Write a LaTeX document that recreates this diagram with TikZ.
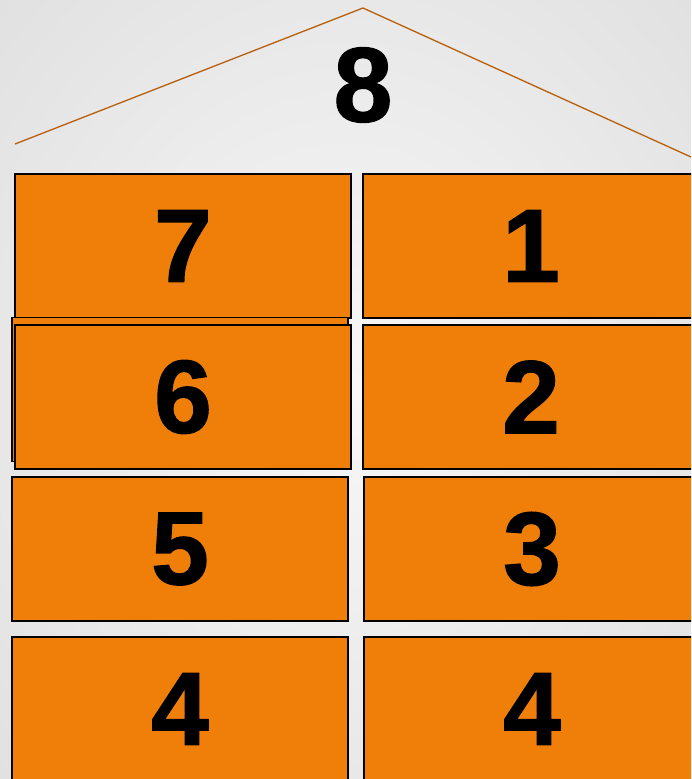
\documentclass[tikz,border=0pt]{standalone}
\usepackage{fontspec}
\setmainfont[BoldFeatures={FakeBold=1.2}]{Liberation Sans}
\usetikzlibrary{positioning}
\definecolor{tileorange}{HTML}{F07F0A}
\definecolor{roofbrown}{HTML}{B85F0C}

\begin{document}
\begin{tikzpicture}[x=1pt,y=-1pt,
    tile/.style={draw=black, line width=1.5pt, fill=tileorange,
      minimum width=336pt, minimum height=144pt, inner sep=0pt,
      font=\fontsize{104}{104}\selectfont\bfseries},
    roof/.style={draw=roofbrown, line width=1.3pt}]
    % Background
    \useasboundingbox (0,0) rectangle (691,779);
    \clip (0,0) rectangle (691,779);
    \shade[inner color=black!3, outer color=black!13] (-200,-250) rectangle (891,1029);

    % Roof with the whole number
    \coordinate (eaveL) at (15,144);
    \coordinate (apex) at (363,8);
    \coordinate (eaveR) at (691,157);
    \draw[roof] (eaveL) -- (apex) -- (eaveR);
    \node[font=\fontsize{106}{106}\selectfont\bfseries, inner sep=0pt] (whole) at (363,85) {8};

    % Number pairs
    \node[tile] (seven) at (183,246) {7};
    \node[tile] (one) at (531,246) {1};
    \node[tile] (behind) at (180,389.5) {};
    \node[tile] (six) at (183,397) {6};
    \node[tile] (two) at (531,397) {2};
    \node[tile] (five) at (180,549) {5};
    \node[tile] (three) at (532,549) {3};
    \node[tile] (fourL) at (180,709) {4};
    \node[tile] (fourR) at (532,709) {4};
\end{tikzpicture}
\end{document}
